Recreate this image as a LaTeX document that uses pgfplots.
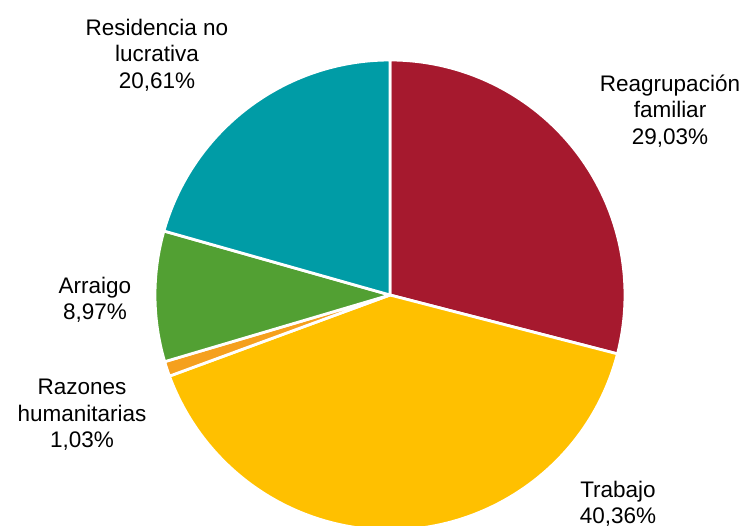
\documentclass[border=0pt]{standalone}
\usepackage{fontspec}
\setmainfont{Liberation Sans}
\usepackage{pgfplots}
\pgfplotsset{compat=1.18}
\definecolor{cRed}{HTML}{A6192E}
\definecolor{cYellow}{HTML}{FFC000}
\definecolor{cOrange}{HTML}{F5A01E}
\definecolor{cGreen}{HTML}{52A033}
\definecolor{cTeal}{HTML}{009CA6}
\begin{document}
\begin{tikzpicture}
% shares (%), clockwise from 12 o'clock
\pgfmathsetmacro\pA{29.03}% Reagrupacion familiar
\pgfmathsetmacro\pB{40.36}% Trabajo
\pgfmathsetmacro\pC{1.03}%  Razones humanitarias
\pgfmathsetmacro\pD{8.97}%  Arraigo
\pgfmathsetmacro\pE{20.61}% Residencia no lucrativa
\pgfmathsetmacro\aA{90}
\pgfmathsetmacro\aB{\aA-3.6*\pA}
\pgfmathsetmacro\aC{\aB-3.6*\pB}
\pgfmathsetmacro\aD{\aC-3.6*\pC}
\pgfmathsetmacro\aE{\aD-3.6*\pD}
\begin{axis}[
    x=1pt, y=1pt,
    xmin=0, xmax=749, ymin=0, ymax=525,
    hide axis, clip=true,
    anchor=south west, at={(0,0)},
]
\addplot[draw=none] coordinates {(0,0) (749,525)};
\def\R{235}
\tikzset{sl/.style={draw=white, line width=2.8pt, line join=round}}
\filldraw[sl, fill=cRed]    (axis cs:390,230) -- ++(\aA:\R pt) arc[start angle=\aA, delta angle=-3.6*\pA, radius=\R pt] -- cycle;
\filldraw[sl, fill=cYellow] (axis cs:390,230) -- ++(\aB:\R pt) arc[start angle=\aB, delta angle=-3.6*\pB, radius=\R pt] -- cycle;
\filldraw[sl, fill=cOrange] (axis cs:390,230) -- ++(\aC:\R pt) arc[start angle=\aC, delta angle=-3.6*\pC, radius=\R pt] -- cycle;
\filldraw[sl, fill=cGreen]  (axis cs:390,230) -- ++(\aD:\R pt) arc[start angle=\aD, delta angle=-3.6*\pD, radius=\R pt] -- cycle;
\filldraw[sl, fill=cTeal]   (axis cs:390,230) -- ++(\aE:\R pt) arc[start angle=\aE, delta angle=-3.6*\pE, radius=\R pt] -- cycle;
\tikzset{lb/.style={align=center, font=\fontsize{22.5}{26.5}\selectfont, inner sep=0pt}}
\node[lb] at (axis cs:157,470) {Residencia no\\lucrativa\\20,61\%};
\node[lb] at (axis cs:670,414) {Reagrupación\\familiar\\29,03\%};
\node[lb] at (axis cs:95,225) {Arraigo\\8,97\%};
\node[lb] at (axis cs:82,110) {Razones\\humanitarias\\1,03\%};
\node[lb] at (axis cs:618,21) {Trabajo\\40,36\%};
\end{axis}
\pgfresetboundingbox
\path (0,0) rectangle (749pt,525pt);
\end{tikzpicture}
\end{document}
